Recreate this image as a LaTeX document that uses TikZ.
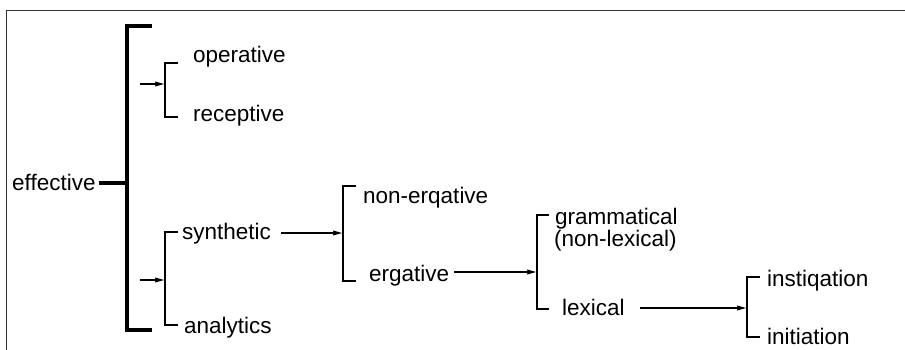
\documentclass[tikz,border=0pt]{standalone}
\usepackage{fontspec}
\setmainfont{Liberation Sans}
\usetikzlibrary{arrows.meta}
\begin{document}
\begin{tikzpicture}[x=1pt,y=-1pt,
  lbl/.style={anchor=base west,inner sep=0pt,font=\fontsize{22.5}{26}\selectfont},
  brk/.style={line width=2pt,line join=miter},
  bigbrk/.style={line width=4.5pt,line join=miter},
  arr/.style={line width=1.1pt,-{Stealth[length=9pt,width=5pt,inset=1pt]},shorten >=1pt},
  frame/.style={line width=1pt,black!80}]
\useasboundingbox (0,0) rectangle (905,350);
\draw[frame] (6,350) -- (6,11) -- (905,11);

% labels
\node[lbl] (eff) at (12,190.5) {effective};
\node[lbl] (op) at (193,63) {operative};
\node[lbl] (rec) at (193,122) {receptive};
\node[lbl] (syn) at (182,239.5) {synthetic};
\node[lbl] (ana) at (184,333) {analytics};
\node[lbl] (nerg) at (363,203) {non-erqative};
\node[lbl] (erg) at (369,281) {ergative};
\node[lbl] (gram) at (555,224) {grammatical};
\node[lbl] (nlex) at (554,246) {(non-lexical)};
\node[lbl] (lex) at (562,315.5) {lexical};
\node[lbl] (inst) at (767,286.5) {instiqation};
\node[lbl] (init) at (767,344.5) {initiation};

% big bracket
\coordinate (B0t) at (152,26);  \coordinate (B0b) at (152,330);
\coordinate (B0m) at (127,183);
\draw[bigbrk] (B0t) -- (127,26) -- (127,330) -- (B0b);
\draw[bigbrk] ([xshift=3pt]eff.east |- B0m) -- (B0m);

% bracket 1
\coordinate (B1m) at (165,84); \coordinate (A1) at (140,84);
\draw[brk] (178,63) -- (165,63) -- (165,117) -- (178,117);
\draw[arr] (A1) -- (B1m);

% bracket 2
\coordinate (B2m) at (165,280); \coordinate (A2) at (140,280);
\draw[brk] (178,232) -- (165,232) -- (165,325) -- (178,325);
\draw[arr] (A2) -- (B2m);

% bracket 3
\coordinate (B3m) at (343,233);
\draw[brk] (356,186) -- (343,186) -- (343,281) -- (356,281);
\draw[arr,shorten <=10pt] (syn.east |- B3m) -- (B3m);

% bracket 4
\coordinate (B4m) at (537,272);
\draw[brk] (549,215) -- (537,215) -- (537,309) -- (549,309);
\draw[arr,shorten <=5pt] (erg.east |- B4m) -- (B4m);

% bracket 5
\coordinate (B5m) at (747,308);
\draw[brk] (760,277) -- (747,277) -- (747,337) -- (760,337);
\draw[arr,shorten <=15pt] (lex.east |- B5m) -- (B5m);
\end{tikzpicture}
\end{document}
